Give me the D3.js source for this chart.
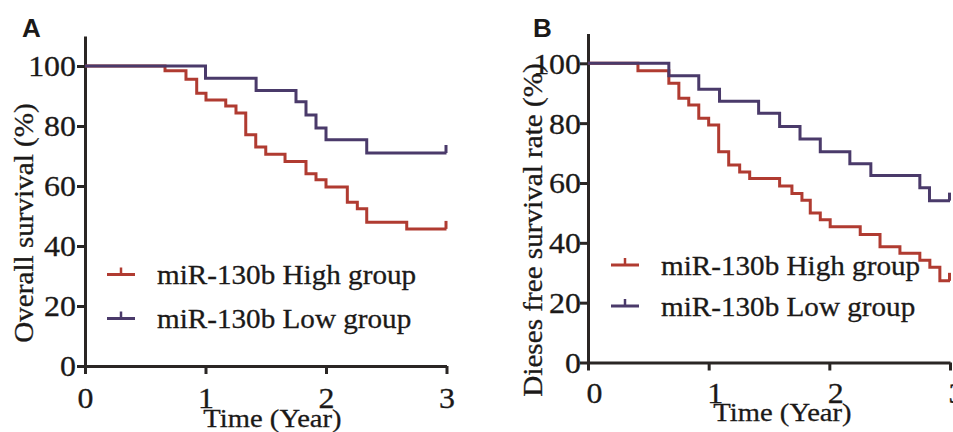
<!DOCTYPE html>
<html>
<head>
<meta charset="utf-8">
<script src="https://cdn.jsdelivr.net/npm/d3@7"></script>
<style>
body { margin: 0; background: #fff; }
svg { display: block; }
text { font-family: "Liberation Serif", "Times New Roman", serif; fill: #1b1918; }
</style>
</head>
<body>
<svg id="svg" width="953" height="432"></svg>
<script>
// tick values
var timeTicks = [0, 1, 2, 3];
var pctTicks = [0, 20, 40, 60, 80, 100];
var groupNames = ['miR-130b High group', 'miR-130b Low group'];

// Kaplan-Meier steps: [year, percent]
var osHigh = [[0,100],[0.664,98.4],[0.838,95.6],[0.927,90.9],[1.004,88.7],[1.168,86.7],[1.253,84.3],
    [1.334,77.1],[1.417,73.0],[1.500,70.6],[1.660,68.2],[1.834,64.1],[1.917,62.1],[2.0,59.7],
    [2.177,54.6],[2.26,52.4],[2.338,47.9],[2.670,45.7],[3,45.7]];
var osLow = [[0,100],[1.0,95.9],[1.42,91.8],[1.751,88.1],[1.834,83.7],[1.917,79.3],[2.0,75.4],
    [2.338,71.0],[3,71.0]];
var dfsHigh = [[0,100],[0.414,97.5],[0.67,93.3],[0.753,88.3],[0.835,86.1],[0.918,81.6],[1.0,79.4],
    [1.083,70.4],[1.166,66.0],[1.257,63.7],[1.34,61.5],[1.588,59.0],[1.69,56.5],[1.773,54.2],
    [1.842,50.0],[1.925,47.7],[2.007,45.4],[2.256,42.8],[2.42,38.7],[2.585,36.5],[2.75,34.2],
    [2.833,31.8],[2.916,27.3],[3,27.3]];
var dfsLow = [[0,100],[0.67,95.8],[0.918,91.3],[1.09,87.3],[1.414,83.3],[1.588,78.9],[1.757,74.7],
    [1.925,70.4],[2.17,66.4],[2.344,62.5],[2.75,58.4],[2.83,54.1],[3,54.1]];

var red = '#b03b31';
var purple = '#4a3a6a';
var ink = '#2a2624';

var svg = d3.select('svg');

// the source picture is a little wider than tall, stretch text to match
function stretch(sel, k) {
    sel.each(function () {
        var w = this.getComputedTextLength();
        d3.select(this).attr('textLength', w * k).attr('lengthAdjust', 'spacingAndGlyphs');
    });
}

function drawPanel(p) {
    var x = d3.scaleLinear().domain([0, 3]).range([p.left, p.right]);
    var y = d3.scaleLinear().domain([0, 100]).range([p.bottom, p.top]);
    var g = svg.append('g');

    // x axis
    var xa = g.append('g')
        .attr('transform', 'translate(0,' + p.bottom + ')')
        .call(d3.axisBottom(x).tickValues(timeTicks).tickSize(8).tickSizeOuter(0).tickFormat(d3.format('d')));
    xa.selectAll('text')
        .attr('y', p.xLabelY).attr('dy', null).attr('x', p.xLabelShift)
        .style('font-size', '29px');

    // y axis, runs a bit past 100
    var ya = g.append('g')
        .attr('transform', 'translate(' + p.left + ',0)')
        .call(d3.axisLeft(y.copy().domain([0, 110]).range([p.bottom, p.bottom - (p.bottom - p.top) * 1.1]))
            .tickValues(pctTicks).tickSize(8).tickSizeOuter(0));
    ya.selectAll('text')
        .attr('x', p.yLabelX).attr('dy', '0.34em')
        .style('font-size', '29px');

    g.selectAll('.domain, .tick line')
        .attr('stroke', ink).attr('stroke-width', 3);
    g.selectAll('.tick text')
        .attr('fill', '#1b1918')
        .attr('stroke', '#1b1918').attr('stroke-width', 0.3)
        .style('font-family', '"Liberation Serif", serif');
    stretch(g.selectAll('.tick text'), 1.1);

    var line = d3.line()
        .x(function (d) { return x(d[0]); })
        .y(function (d) { return y(d[1]); })
        .curve(d3.curveStepAfter);

    p.series.forEach(function (s) {
        g.append('path')
            .attr('d', line(s.data))
            .attr('fill', 'none')
            .attr('stroke', s.color)
            .attr('stroke-width', 3);
        // censor tick at the end
        var last = s.data[s.data.length - 1];
        g.append('line')
            .attr('x1', x(last[0]) - 0.5).attr('x2', x(last[0]) - 0.5)
            .attr('y1', y(last[1])).attr('y2', y(last[1]) - 8)
            .attr('stroke', s.color).attr('stroke-width', 3);
    });

    // legend
    p.series.forEach(function (s, i) {
        var ly = p.legendY[i];
        g.append('line')
            .attr('x1', p.legendX).attr('x2', p.legendX + 28)
            .attr('y1', ly).attr('y2', ly)
            .attr('stroke', s.color).attr('stroke-width', 3);
        g.append('line')
            .attr('x1', p.legendX + 14).attr('x2', p.legendX + 14)
            .attr('y1', ly).attr('y2', ly - 7)
            .attr('stroke', s.color).attr('stroke-width', 2.5);
        g.append('text')
            .attr('class', 'lt')
            .attr('x', p.legendX + 50).attr('y', ly + 9.5)
            .style('font-size', '26.5px')
            .text(groupNames[i]);
    });

    // axis titles
    g.append('text')
        .attr('class', 'lt')
        .attr('transform', 'translate(' + p.yTitle[0] + ',' + p.yTitle[1] + ') rotate(-90)')
        .attr('text-anchor', 'middle')
        .style('font-size', '26.5px')
        .text(p.yTitleText);
    g.append('text')
        .attr('class', 'lt')
        .attr('x', p.xTitle[0]).attr('y', p.xTitle[1])
        .attr('text-anchor', 'middle')
        .style('font-size', '26px')
        .text('Time (Year)');
    g.selectAll('.lt').attr('stroke', '#1b1918').attr('stroke-width', 0.3);
    stretch(g.selectAll('.lt'), 1.1);

    // panel letter
    g.append('text')
        .attr('x', p.letterX).attr('y', 37)
        .style('font-family', '"Liberation Sans", Arial, sans-serif')
        .style('font-weight', 'bold')
        .style('font-size', '26px')
        .attr('fill', '#000')
        .text(p.letter);
}

drawPanel({
    letter: 'A', letterX: 22,
    left: 85, right: 446.5, bottom: 366, top: 66,
    xLabelY: 42, xLabelShift: 0, yLabelX: -9,
    legendX: 107, legendY: [274.5, 318.5],
    yTitle: [33, 223], yTitleText: 'Overall survival (%)',
    xTitle: [272.5, 427],
    series: [{ data: osHigh, color: red }, { data: osLow, color: purple }]
});

drawPanel({
    letter: 'B', letterX: 533,
    left: 588, right: 950, bottom: 362.5, top: 63.3,
    xLabelY: 40, xLabelShift: 6, yLabelX: -7,
    legendX: 611, legendY: [265, 306],
    yTitle: [541.5, 230], yTitleText: 'Dieses free survival rate (%)',
    xTitle: [782.5, 421],
    series: [{ data: dfsHigh, color: red }, { data: dfsLow, color: purple }]
});
</script>
</body>
</html>
